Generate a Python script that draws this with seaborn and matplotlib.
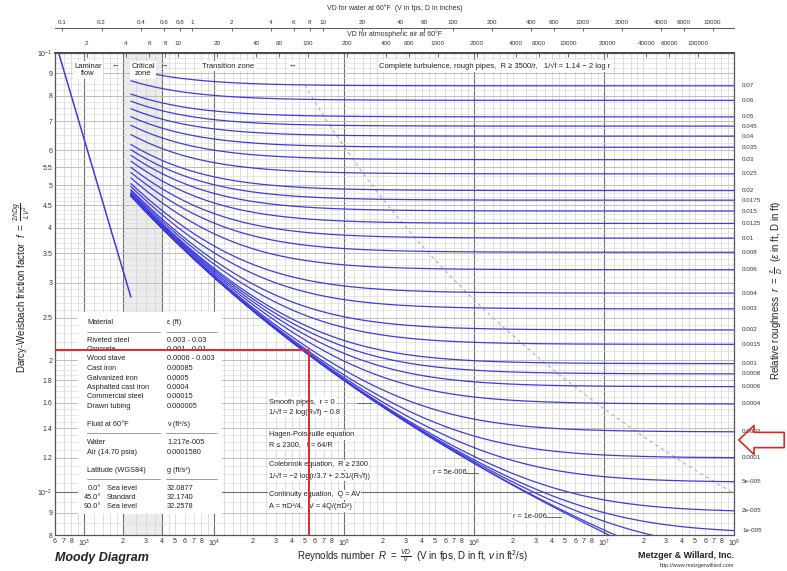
# Moody diagram (Metzger & Willard style)

import numpy as np
import pandas as pd
import matplotlib
matplotlib.use("Agg")
import matplotlib.pyplot as plt
import matplotlib.patches as mpatches
from matplotlib.ticker import FixedLocator, FixedFormatter, NullLocator
import matplotlib.transforms as mtransforms
import seaborn as sns

sns.set_theme(style="white")
plt.rcParams['font.family'] = ['Liberation Sans', 'DejaVu Sans']
plt.rcParams['mathtext.fontset'] = 'custom'
plt.rcParams['mathtext.rm'] = 'Liberation Sans'
plt.rcParams['mathtext.it'] = 'Liberation Sans:italic'
plt.rcParams['mathtext.bf'] = 'Liberation Sans:bold'

# --- data ----------------------------------------------------------------
# relative roughness r = eps/D of each curve (0 = smooth pipe)
roughness = [0.07, 0.06, 0.05, 0.045, 0.04, 0.035, 0.03, 0.025, 0.02, 0.0175,
             0.015, 0.0125, 0.01, 0.008, 0.006, 0.004, 0.003, 0.002, 0.0015,
             0.001, 0.0008, 0.0006, 0.0004, 0.0002, 0.0001, 5e-5, 2e-5, 1e-5,
             5e-6, 1e-6, 0.0]
roughness_labels = ['0.07', '0.06', '0.05', '0.045', '0.04', '0.035', '0.03',
                    '0.025', '0.02', '0.0175', '0.015', '0.0125', '0.01',
                    '0.008', '0.006', '0.004', '0.003', '0.002', '0.0015',
                    '0.001', '0.0008', '0.0006', '0.0004', '0.0002', '0.0001',
                    '5e-005', '2e-005', '1e-005']

re_min, re_max = 600, 1e8          # Reynolds number range of the chart
f_min, f_max = 0.008, 0.1          # friction factor range
re_laminar_end = 2300              # Hagen-Poiseuille limit / Colebrook start
critical_zone = (2000, 4000)
complete_turb_const = 3500         # R >= 3500 / r

nu_water = 1.217e-5                # ft^2/s at 60 F
nu_air = 0.0001580

# red reading lines (example lookup)
red_re = 5.4e4
red_f = 0.0211

y_ticks = [0.008, 0.009, 0.01, 0.012, 0.014, 0.016, 0.018, 0.02, 0.025, 0.03,
           0.035, 0.04, 0.045, 0.05, 0.055, 0.06, 0.07, 0.08, 0.09, 0.1]
y_tick_labels = ['8', '9', '$10^{-2}$', '1.2', '1.4', '1.6', '1.8', '2', '2.5',
                 '3', '3.5', '4', '4.5', '5', '5.5', '6', '7', '8', '9',
                 '$10^{-1}$']

water_ticks = [0.1, 0.2, 0.4, 0.6, 0.8, 1, 2, 4, 6, 8, 10, 20, 40, 60, 100,
               200, 400, 600, 1000, 2000, 4000, 6000, 10000]
air_ticks = [2, 4, 6, 8, 10, 20, 40, 60, 100, 200, 400, 600, 1000, 2000,
             4000, 6000, 10000, 20000, 40000, 60000, 100000]

materials = ['Riveted steel', 'Concrete', 'Wood stave', 'Cast iron',
             'Galvanized iron', 'Asphalted cast iron', 'Commercial steel',
             'Drawn tubing']
material_eps = ['0.003 - 0.03', '0.001 - 0.01', '0.0006 - 0.003', '0.00085',
                '0.0005', '0.0004', '0.00015', '0.000005']
fluids = ['Water', 'Air (14.70 psia)']
fluid_nu = ['1.217e-005', '0.0001580']
latitudes = ['0.0°', '45.0°', '90.0°']
latitude_names = ['Sea level', 'Standard', 'Sea level']
latitude_g = ['32.0877', '32.1740', '32.2578']


# --- curves: Colebrook equation as printed on the chart ------------------
def colebrook(r, re):
    f = np.full_like(re, 0.02, dtype=float)
    for _ in range(80):
        f = (-2 * np.log10(r / 3.7 + 2.51 / (re * np.sqrt(f)))) ** -2
    return f


re_grid = np.logspace(np.log10(re_laminar_end), np.log10(re_max), 400)
curves = pd.concat([pd.DataFrame({'Re': re_grid, 'f': colebrook(r, re_grid), 'r': r})
                    for r in roughness], ignore_index=True)

laminar = pd.DataFrame({'Re': [re_min, re_laminar_end]})
laminar['f'] = 64 / laminar['Re']

r_bound = np.logspace(np.log10(roughness[0]), np.log10(complete_turb_const / re_max), 100)
boundary = pd.DataFrame({'Re': complete_turb_const / r_bound,
                         'f': colebrook(r_bound, complete_turb_const / r_bound)})

# --- figure --------------------------------------------------------------
W, H = 787, 571
fig = plt.figure(figsize=(W / 100, H / 100), dpi=100)
ax = fig.add_axes([55 / W, 36 / H, 679 / W, 482 / H])


def fpx(x, y):
    return (x / W, 1 - y / H)


ax.set_xscale('log')
ax.set_yscale('log')
ax.set_xlim(re_min, re_max)
ax.set_ylim(f_min, f_max)

# grid
ax.axvspan(*critical_zone, color='#ececec', zorder=0, lw=0)
subs = [1, 1.2, 1.4, 1.6, 1.8, 2, 2.5, 3, 3.5, 4, 4.5, 5, 6, 7, 8, 9]
for dec in [1e2, 1e3, 1e4, 1e5, 1e6, 1e7]:
    for s in subs:
        x = dec * s
        if re_min <= x <= re_max:
            major = s == 1
            ax.axvline(x, color='#6e6e6e' if major else '#d0d0d0',
                       lw=0.8 if major else 0.5, zorder=1)
for x in critical_zone:
    ax.axvline(x, color='#6e6e6e', lw=0.8, zorder=1)
hgrid = np.concatenate([np.arange(0.008, 0.02, 0.0005),
                        np.arange(0.02, 0.05, 0.001),
                        np.arange(0.05, 0.1001, 0.0025)])
for y in hgrid:
    ax.axhline(y, color='#dadada', lw=0.45, zorder=1)
for y in y_ticks:
    ax.axhline(y, color='#b4b4b4', lw=0.55, zorder=1)
ax.axhline(0.01, color='#6e6e6e', lw=0.8, zorder=1)

blue = '#3c3cde'
sns.lineplot(data=curves, x='Re', y='f', units='r', estimator=None,
             color=blue, lw=0.9, ax=ax, zorder=3, legend=False, sort=False)
sns.lineplot(data=laminar, x='Re', y='f', color=blue, lw=1.1, ax=ax, zorder=3)
sns.lineplot(data=boundary, x='Re', y='f', color='#b0b0b0', lw=0.8,
             linestyle=(0, (3, 3)), ax=ax, zorder=2)

# ticks
x_ticks, x_labels = [], []
for dec in [1e2, 1e3, 1e4, 1e5, 1e6, 1e7, 1e8]:
    for k in range(1, 9):
        x = dec * k
        if re_min <= x <= re_max:
            x_ticks.append(x)
            x_labels.append('$10^{%d}$' % round(np.log10(dec)) if k == 1 else str(k))
ax.xaxis.set_major_locator(FixedLocator(x_ticks))
ax.xaxis.set_major_formatter(FixedFormatter(x_labels))
ax.xaxis.set_minor_locator(NullLocator())
ax.yaxis.set_major_locator(FixedLocator(y_ticks))
ax.yaxis.set_major_formatter(FixedFormatter(y_tick_labels))
ax.yaxis.set_minor_locator(NullLocator())
ax.tick_params(axis='both', which='both', direction='in', length=2.5, width=0.5,
               labelsize=5, pad=2, colors='#333333', top=False, right=False)
ax.set_xlabel('')
ax.set_ylabel('')
for s in ax.spines.values():
    s.set_color('#555555')
    s.set_linewidth(0.9)

# secondary VD axes
sec_w = ax.secondary_xaxis(1 + 25 / 482, functions=(lambda re: re * 12 * nu_water,
                                                     lambda vd: vd / (12 * nu_water)))
sec_w.set_xticks(water_ticks, labels=[f'{t:g}' for t in water_ticks])
sec_w.xaxis.set_minor_locator(NullLocator())
sec_w.tick_params(direction='in', length=2.5, width=0.5, labelsize=4.5, pad=2,
                  colors='#333333')
sec_w.spines['top'].set_color('#555555')
sec_w.spines['top'].set_linewidth(0.7)

sec_a = ax.secondary_xaxis('top', functions=(lambda re: re * 12 * nu_air,
                                              lambda vd: vd / (12 * nu_air)))
sec_a.set_xticks(air_ticks, labels=[f'{t:g}' for t in air_ticks])
sec_a.xaxis.set_minor_locator(NullLocator())
sec_a.tick_params(direction='in', length=3, width=0.5, labelsize=4.5, pad=5,
                  colors='#333333')

fig.text(*fpx(395, 8), 'VD for water at 60°F  (V in fps, D in inches)',
         ha='center', va='center', fontsize=5, color='#333333')
fig.text(*fpx(395, 34), 'VD for atmospheric air at 60°F',
         ha='center', va='center', fontsize=5, color='#333333')

# roughness labels on the right
right_blend = mtransforms.blended_transform_factory(ax.transAxes, ax.transData)
for r, lab in zip(roughness, roughness_labels):
    f_end = colebrook(r, np.array([re_max]))[0]
    ax.text(1.012, f_end, lab, transform=right_blend, ha='left', va='center',
            fontsize=4.5, color='#333333', clip_on=False)

# axis titles
fig.text(*fpx(22, 288), r'Darcy-Weisbach friction factor  $f\ =\ \frac{2hDg}{LV^2}$',
         rotation=90, ha='center', va='center', fontsize=7, color='#222222')
fig.text(*fpx(777, 290), r'Relative roughness  $r\ =\ \frac{\epsilon}{D}$  ($\epsilon$ in ft, D in ft)',
         rotation=90, ha='center', va='center', fontsize=7, color='#222222')
fig.text(*fpx(413, 556), r'Reynolds number  $R\ =\ \frac{VD}{\nu}$  (V in fps, D in ft, $\nu$ in ft$^2$/s)',
         ha='center', va='center', fontsize=7, color='#222222')
fig.text(*fpx(55, 558), 'Moody Diagram', ha='left', va='center', fontsize=9,
         fontweight='bold', fontstyle='italic', color='#222222')
fig.text(*fpx(734, 556), 'Metzger & Willard, Inc.', ha='right', va='center',
         fontsize=6.5, fontweight='bold', color='#222222')
fig.text(*fpx(734, 566), 'http://www.metzgerwillard.com', ha='right', va='center',
         fontsize=4, color='#333333')

# zone labels along the top
box = dict(facecolor='white', edgecolor='none', pad=1.2)
zt = dict(transform=fig.transFigure, fontsize=5.5, color='#222222', zorder=6)
ax.text(*fpx(88, 70), 'Laminar\nflow', ha='center', va='center', bbox=box,
        linespacing=1.1, **zt)
ax.text(*fpx(143, 70), 'Critical\nzone', ha='center', va='center', bbox=box,
        linespacing=1.1, **zt)
ax.text(*fpx(115, 66), '←', ha='center', va='center', **zt)
ax.text(*fpx(164, 66), '→', ha='center', va='center', **zt)
ax.text(*fpx(228, 66), 'Transition zone', ha='center', va='center', bbox=box, **zt)
ax.text(*fpx(292, 66), '↔', ha='center', va='center', bbox=box, **zt)
ax.text(*fpx(495, 66), 'Complete turbulence, rough pipes,  R ≥ 3500/r,   1/√f = 1.14 − 2 log r',
        ha='center', va='center', bbox=box, **zt)

# material table
ax.add_patch(mpatches.Rectangle(fpx(78, 514), 144 / W, 202 / H, transform=fig.transFigure,
                                facecolor='white', edgecolor='none', zorder=5))
tt = dict(transform=fig.transFigure, fontsize=5.3, color='#222222', va='center', zorder=6)


def table_rule(y):
    for x0, x1 in [(87, 160), (166, 217)]:
        ax.plot([x0 / W, x1 / W], [1 - y / H] * 2, transform=fig.transFigure,
                color='#777777', lw=0.5, zorder=6)


ax.text(*fpx(87, 323), 'Material', **tt)
ax.text(*fpx(167, 323), 'ε (ft)', **tt)
table_rule(332)
for i, (m, e) in enumerate(zip(materials, material_eps)):
    y = 340 + 9.5 * i
    ax.text(*fpx(87, y), m, **tt)
    ax.text(*fpx(167, y), e, **tt)
ax.text(*fpx(87, 425), 'Fluid at 60°F', **tt)
ax.text(*fpx(167, 425), 'ν (ft²/s)', **tt)
table_rule(433)
for i, (fl, nu) in enumerate(zip(fluids, fluid_nu)):
    y = 442 + 10 * i
    ax.text(*fpx(87, y), fl, **tt)
    ax.text(*fpx(167, y), nu, **tt)
ax.text(*fpx(87, 470), 'Latitude (WGS84)', **tt)
ax.text(*fpx(167, 470), 'g (ft/s²)', **tt)
table_rule(479)
for i, (la, nm, g) in enumerate(zip(latitudes, latitude_names, latitude_g)):
    y = 488 + 9.2 * i
    ax.text(*fpx(101, y), la, ha='right', **tt)
    ax.text(*fpx(107, y), nm, **tt)
    ax.text(*fpx(167, y), g, **tt)

# equations block
eq_lines = [(402, 'Smooth pipes,  r = 0'),
            (412, '1/√f = 2 log(R√f) − 0.8'),
            (435, 'Hagen-Poiseuille equation'),
            (445, 'R ≤ 2300,   f = 64/R'),
            (465, 'Colebrook equation,  R ≥ 2300'),
            (476, '1/√f = −2 log(r/3.7 + 2.51/(R√f))'),
            (495, 'Continuity equation,  Q = AV'),
            (507, 'A = πD²/4,   V = 4Q/(πD²)')]
ebox = dict(facecolor='white', edgecolor='none', pad=0.8)
for y, s in eq_lines:
    ax.text(*fpx(269, y), s, ha='left', bbox=ebox, **tt)

ptr = dict(transform=fig.transFigure, color='#555555', lw=0.6, zorder=6)
ax.plot([357 / W, 371 / W], [1 - 403 / H] * 2, **ptr)
ax.text(*fpx(433, 473), 'r = 5e-006', ha='left', bbox=ebox, **tt)
ax.plot([465 / W, 478 / W], [1 - 473 / H] * 2, **ptr)
ax.text(*fpx(513, 517), 'r = 1e-006', ha='left', bbox=ebox, **tt)
ax.plot([546 / W, 561 / W], [1 - 517 / H] * 2, **ptr)

# red reading lines
red = '#e02828'
ax.plot([re_min, red_re], [red_f, red_f], color=red, lw=1.4, zorder=8, solid_capstyle='butt')
ax.plot([red_re, red_re], [red_f, f_min], color=red, lw=1.4, zorder=8, solid_capstyle='butt')

# hollow red arrow on the right edge
arrow = mpatches.FancyArrowPatch(fpx(787, 440), fpx(736, 440), transform=fig.transFigure,
                                 arrowstyle='simple,head_length=1.0,head_width=1.9,tail_width=1.0',
                                 mutation_scale=11, facecolor='none', edgecolor=red, lw=1.2)
fig.add_artist(arrow)

fig.savefig('out.png', dpi=100)
